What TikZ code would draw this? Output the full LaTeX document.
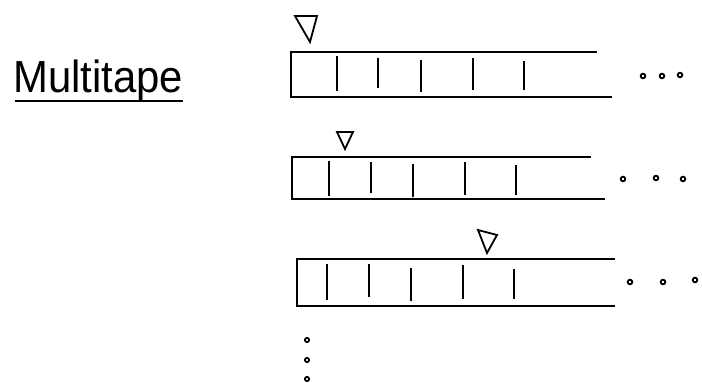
\documentclass[tikz,border=0pt]{standalone}
\usepackage{fontspec}
\setmainfont{Liberation Sans}
\begin{document}
\begin{tikzpicture}[x=1pt,y=-1pt,
  tapeline/.style={line width=2.2pt,line join=miter},
  cellbar/.style={line width=1.9pt},
  headmark/.style={line width=1.8pt,line join=miter},
  dotmark/.style={line width=1.8pt}]
\useasboundingbox (0,0) rectangle (702,383);
% title
\node[anchor=base west,inner sep=0pt,xscale=0.93,font=\fontsize{45}{45}\selectfont] (title) at (13,92) {Multitape};
\draw[line width=2.2pt] (15,101) -- (183,101);
% tape 1
\draw[tapeline] (597,52) -- (291,52) -- (291,97) -- (612,97);
\foreach \x/\a/\b in {337/56/91,378/58/88,421/60/92,473/58/90,524/61/90}
  \draw[cellbar] (\x,\a) -- (\x,\b);
\draw[headmark] (295,16) -- (317,16) -- (310,42) -- cycle;
\foreach \x/\y in {643/76,662/76,680/75} \draw[dotmark] (\x,\y) circle (2.3);
% tape 2
\draw[tapeline] (591,157) -- (292,157) -- (292,199) -- (605,199);
\foreach \x/\a/\b in {329/161/196,371/162/193,413/164/197,465/162/195,516/165/195}
  \draw[cellbar] (\x,\a) -- (\x,\b);
\draw[headmark] (337,132) -- (353,132) -- (345,149) -- cycle;
\foreach \x/\y in {623/179,656/178,683/179} \draw[dotmark] (\x,\y) circle (2.3);
% tape 3
\draw[tapeline] (615,259) -- (297,259) -- (297,306) -- (615,306);
\foreach \x/\a/\b in {327/264/300,369/264/297,411/268/301,463/265/299,514/269/299}
  \draw[cellbar] (\x,\a) -- (\x,\b);
\draw[headmark] (478,230) -- (497,235) -- (487,253) -- cycle;
\foreach \x/\y in {630/282,663/282,695/280} \draw[dotmark] (\x,\y) circle (2.3);
% vertical dots
\foreach \y in {340,360,379} \draw[dotmark] (307,\y) circle (2.1);
\end{tikzpicture}
\end{document}
